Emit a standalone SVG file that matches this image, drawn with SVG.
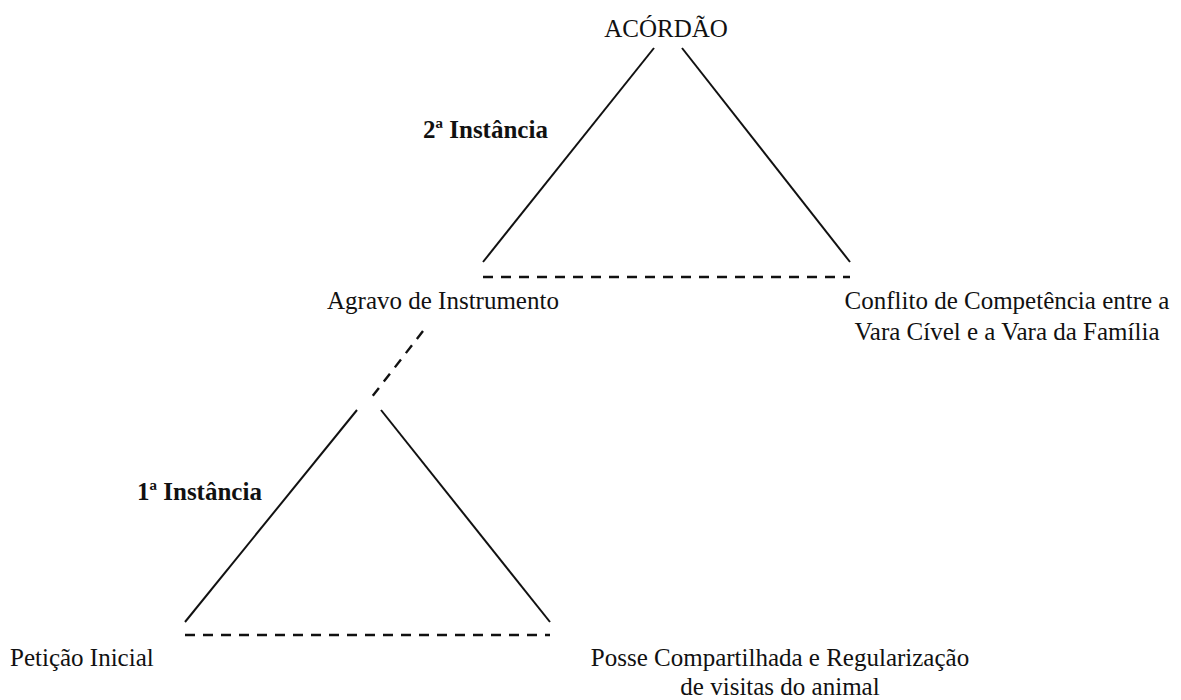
<svg xmlns="http://www.w3.org/2000/svg" width="1181" height="700" viewBox="0 0 1181 700">
<style>
  text { font-family: "Liberation Serif", "Times New Roman", serif; font-size: 25px; fill: #111; }
  .b { font-weight: bold; }
  .solid { stroke: #111; stroke-width: 2; fill: none; }
  .dash { stroke: #111; stroke-width: 2.4; fill: none; stroke-dasharray: 10 8; }
</style>
<rect width="1181" height="700" fill="#fff"/>
<g id="connectors">
  <!-- upper triangle (2nd instance) -->
  <line class="solid" x1="654" y1="48" x2="483" y2="262"/>
  <line class="solid" x1="682" y1="48" x2="850" y2="262"/>
  <line class="dash" x1="483" y1="277" x2="850" y2="277"/>
  <!-- link between the two levels -->
  <line class="dash" x1="423" y1="331" x2="368" y2="402"/>
  <!-- lower triangle (1st instance) -->
  <line class="solid" x1="357" y1="410" x2="185" y2="622"/>
  <line class="solid" x1="381" y1="410" x2="550" y2="622"/>
  <line class="dash" x1="185" y1="635" x2="550" y2="635"/>
</g>
<g id="acordao"><text x="666" y="37" text-anchor="middle">ACÓRDÃO</text></g>
<g id="segunda-instancia"><text class="b" x="423" y="138">2ª Instância</text></g>
<g id="agravo"><text x="327" y="309">Agravo de Instrumento</text></g>
<g id="conflito">
  <text x="1007" y="309" text-anchor="middle">Conflito de Competência entre a</text>
  <text x="1007" y="340" text-anchor="middle">Vara Cível e a Vara da Família</text>
</g>
<g id="primeira-instancia"><text class="b" x="137" y="500">1ª Instância</text></g>
<g id="peticao"><text x="10" y="666">Petição Inicial</text></g>
<g id="posse">
  <text x="780" y="666" text-anchor="middle">Posse Compartilhada e Regularização</text>
  <text x="780" y="695" text-anchor="middle">de visitas do animal</text>
</g>
</svg>
